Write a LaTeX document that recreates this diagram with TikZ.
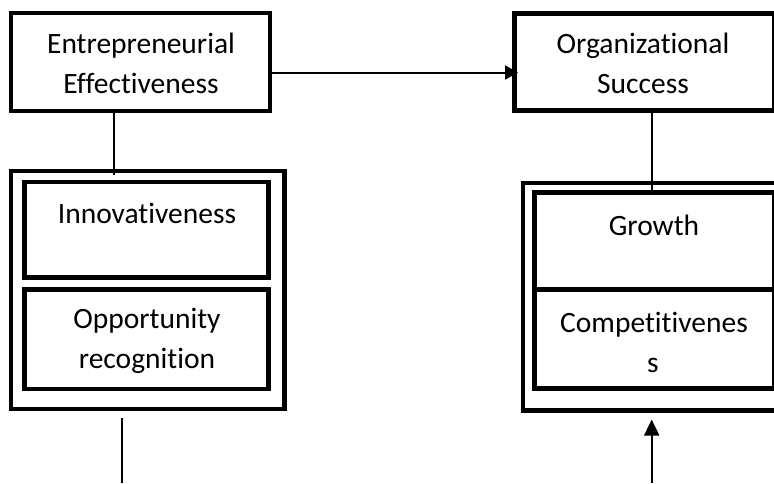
\documentclass[tikz,border=0pt]{standalone}
\usepackage{fontspec}
\setmainfont{Carlito}[Ligatures={NoCommon,NoRequired,NoContextual}]
\usetikzlibrary{arrows.meta}
\tikzset{
  boxnode/.style={draw=black, line width=4.2pt, rectangle, inner sep=0pt, outer sep=0pt, fill=none},
  lbl/.style={anchor=base, inner sep=0pt, font=\fontsize{29.5}{40}\selectfont},
  thinline/.style={draw=black, line width=2pt},
}
\begin{document}
\begin{tikzpicture}[x=1pt, y=-1pt]
\useasboundingbox (0,0) rectangle (774,483);
\fill[white] (0,0) rectangle (774,483);
\clip (0,0) rectangle (774,483);
% top boxes
\node[boxnode, minimum width=259pt, minimum height=98pt] (ee) at (140.5,62) {};
\node[boxnode, minimum width=259.5pt, minimum height=97pt] (os) at (644.25,62) {};
% left group
\node[boxnode, minimum width=273.5pt, minimum height=238pt] (lg) at (147.75,290) {};
\node[boxnode, minimum width=244pt, minimum height=95.5pt] (inn) at (146.5,229.75) {};
\node[boxnode, minimum width=244pt, minimum height=99.5pt] (opp) at (146.5,339.25) {};
% right group
\node[boxnode, minimum width=267pt, minimum height=227.5pt] (rg) at (656.5,296.75) {};
\node[boxnode, minimum width=239.5pt, minimum height=97pt] (gro) at (654.25,241) {};
\node[boxnode, minimum width=239.5pt, minimum height=99pt] (com) at (654.25,339) {};
% labels
\node[lbl] (t1) at (141,53) {Entrepreneurial};
\node[lbl] (t2) at (141,93) {Effectiveness};
\node[lbl] (t3) at (643,53) {Organizational};
\node[lbl] (t4) at (643,93) {Success};
\node[lbl] (t5) at (147,223) {Innovativeness};
\node[lbl] (t6) at (147,328) {Opportunity};
\node[lbl] (t7) at (147,368) {recognition};
\node[lbl] (t8) at (654,235) {Growth};
\node[lbl] (t9) at (654,332) {Competitivenes};
\node[lbl] (t10) at (653,372) {s};
% free ends
\coordinate (lbot) at (121.7,483);
\coordinate (rbot) at (651.7,483);
% connectors
\draw[thinline, -{Triangle[length=13pt,width=14pt]}, shorten >=-3.5pt]
  ([yshift=-10.5pt]ee.east) -- ([yshift=-10.5pt]os.west);
\draw[thinline, shorten <=-2pt] ([xshift=-26.5pt]ee.south) -- ([xshift=-26.5pt]ee.south |- lg.north) -- ++(0,4);
\draw[thinline] ([xshift=7.45pt]os.south) -- ([xshift=7.45pt]os.south |- gro.north);
\draw[thinline, shorten <=9pt] (lbot |- lg.south) -- (lbot);
\draw[thinline, -{Triangle[length=16pt,width=15pt]}, shorten >=9pt] (rbot) -- (rbot |- rg.south);
\end{tikzpicture}
\end{document}
